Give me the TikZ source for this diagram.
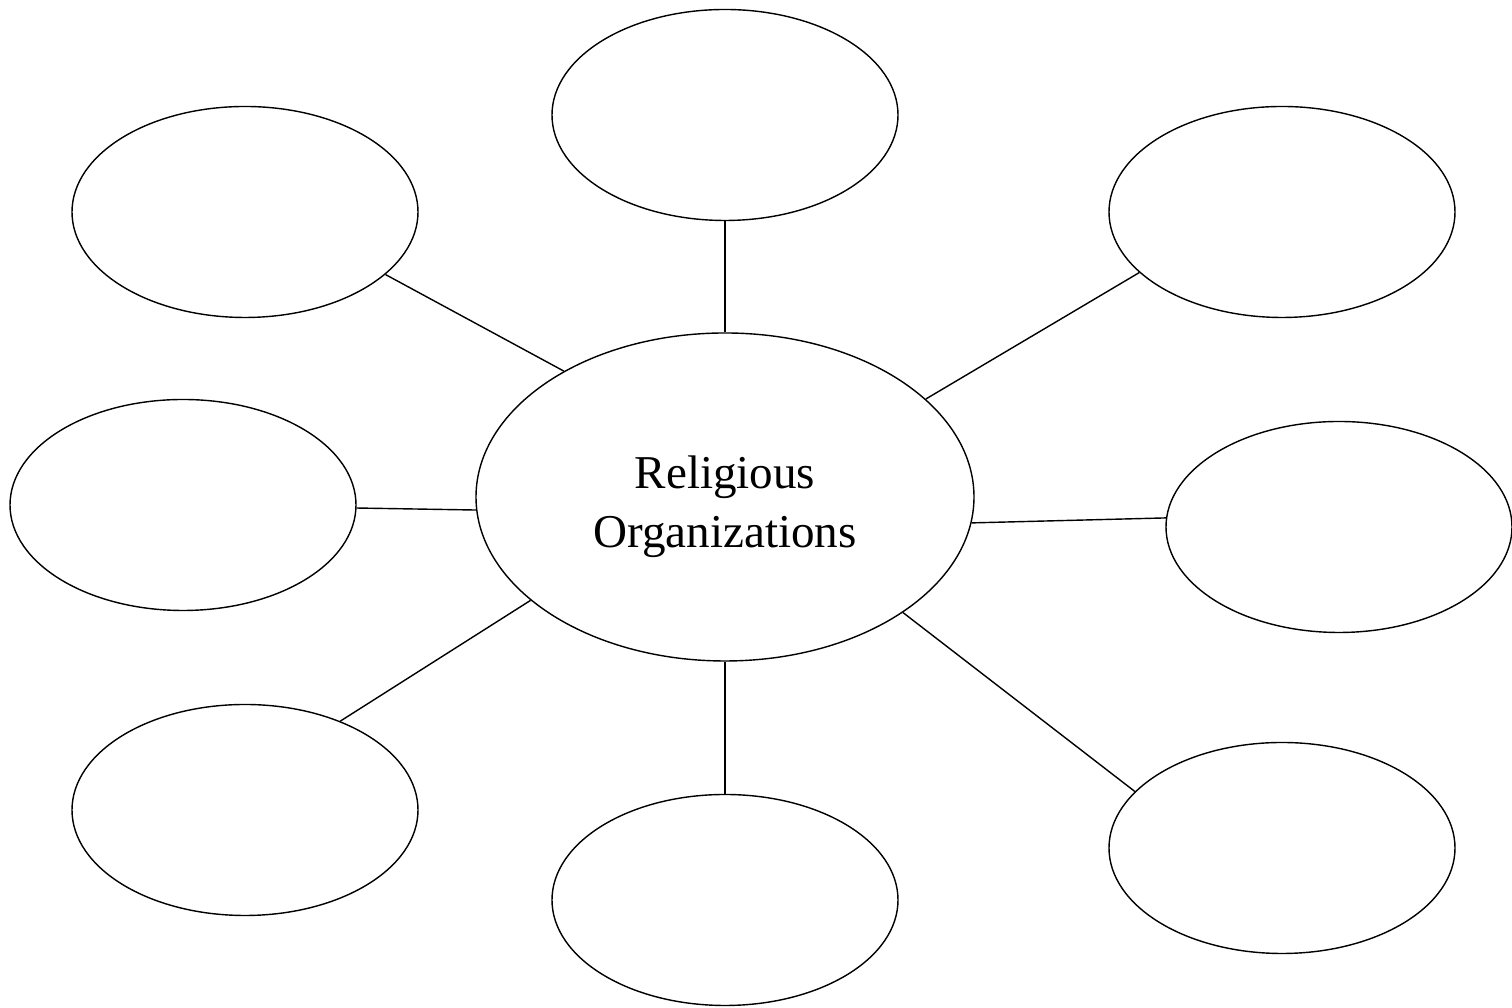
\documentclass[tikz,border=0pt]{standalone}
\usepackage{fontspec}
\setmainfont{Liberation Serif}
\usetikzlibrary{shapes.geometric}
\tikzstyle{bubble} = [ellipse, draw, inner sep=0pt, minimum width=3.46cm, minimum height=2.11cm]
\tikzstyle{link} = [thin]

\begin{document}
\begin{tikzpicture}[every node/.style={bubble}]
  \useasboundingbox (0,0) rectangle (15.12,10.08);

  % Central idea
  \node[minimum width=4.98cm, minimum height=3.28cm] (rel) at (7.25,5.11) {};
  \node[draw=none, align=center, font=\fontsize{13.4}{16.8}\selectfont]
    (relText) at ([yshift=-0.1cm]rel.center) {Religious\\Organizations};

  % Outer bubbles
  \node (top) at (7.25,8.93) {};
  \node (tl) at (2.45,7.96) {};
  \node (tr) at (12.82,7.96) {};
  \node (lft) at (1.83,5.03) {};
  \node (rgt) at (13.39,4.81) {};
  \node (bl) at (2.45,1.98) {};
  \node (bot) at (7.25,1.08) {};
  \node (br) at (12.82,1.60) {};

  % Spokes
  \draw[link] (rel.north) -- (top.south);
  \draw[link] (rel.142.6) -- (tl.-24.3);
  \draw[link] (rel.26.7) -- (tr.203.6);
  \draw[link] (rel.183.9) -- (lft.-1);
  \draw[link] (rel.-6.7) -- (rgt.177);
  \draw[link] (rel.208.6) -- (bl.43.8);
  \draw[link] (rel.south) -- (bot.north);
  \draw[link] (rel.-33.2) -- (br.159.7);
\end{tikzpicture}
\end{document}
